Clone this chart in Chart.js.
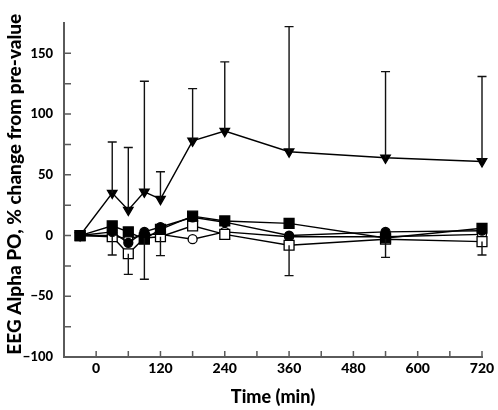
<!DOCTYPE html>
<html>
<head>
<meta charset="utf-8">
<script src="https://cdn.jsdelivr.net/npm/chart.js@4"></script>
<style>
  html, body { margin: 0; padding: 0; background: #fff; }
  #wrap { width: 498px; height: 410px; }
</style>
</head>
<body>
<div id="wrap"><canvas id="eeg-chart"></canvas></div>
<script>
// time points (min)
const times = [-30, 30, 60, 90, 120, 180, 240, 360, 540, 720];

// % change from pre-value, one array per group
const triDown     = [0, 35, 21, 36, 30, 78, 86, 69, 64, 61];
const triDownErrHi = [null, 77, 72.5, 127, 52.5, 121, 143, 172, 135, 131];
const sqFilled    = [0, 8, 3, -3, 5, 16, 12, 10, -2, 6];
const circFilled  = [0, 3, -6, 3, 7, 15, 11, 0, 3, 4];
const sqOpen      = [0, -1, -15, -2, -1, 8, 1, -8, -3, -5];
const sqOpenErrLo = [null, -16, -32, -36, -16.5, null, null, -33, -18, -16];
const circOpen    = [0, 0, -3, 1, 1, -3, 3, -1, -1, 1];

// axis labels
const xLabels = [0, 120, 240, 360, 480, 600, 720];
const yLabels = [-100, -50, 0, 50, 100, 150];

const axisColor = '#5a5a5a';
const fontFam = 'Lato, "DejaVu Sans", sans-serif';

function pts(vals) {
    return times.map((t, i) => ({ x: t, y: vals[i] }));
}

// error bars (only one direction is drawn in the figure)
const errorBars = {
    id: 'errorBars',
    afterDatasetsDraw(chart) {
        const { ctx, scales: { x, y } } = chart;
        ctx.save();
        ctx.strokeStyle = '#111';
        ctx.lineWidth = 1.4;
        const draw = (vals, ends) => {
            times.forEach((t, i) => {
                if (ends[i] == null) return;
                const px = x.getPixelForValue(t);
                const y0 = y.getPixelForValue(vals[i]);
                const y1 = y.getPixelForValue(ends[i]);
                ctx.beginPath();
                ctx.moveTo(px, y0);
                ctx.lineTo(px, y1);
                ctx.moveTo(px - 4.5, y1);
                ctx.lineTo(px + 4.5, y1);
                ctx.stroke();
            });
        };
        draw(triDown, triDownErrHi);
        draw(sqOpen, sqOpenErrLo);
        ctx.restore();
    }
};

// tick marks pointing into the plot
const innerTicks = {
    id: 'innerTicks',
    afterDraw(chart) {
        const { ctx, chartArea: a, scales: { x, y } } = chart;
        ctx.save();
        ctx.strokeStyle = axisColor;
        ctx.lineWidth = 1.5;
        ctx.beginPath();
        x.ticks.forEach(tk => {
            if (tk.value <= x.min) return;
            const px = x.getPixelForValue(tk.value);
            ctx.moveTo(px, a.bottom);
            ctx.lineTo(px, a.bottom - 6);
        });
        y.ticks.forEach(tk => {
            if (tk.value <= y.min || tk.value >= y.max) return;
            const py = y.getPixelForValue(tk.value);
            ctx.moveTo(a.left, py);
            ctx.lineTo(a.left + 7, py);
        });
        ctx.stroke();
        ctx.restore();
    }
};

function mkSet(vals, style, radius, fill) {
    return {
        data: pts(vals),
        borderColor: '#000',
        borderWidth: 1.4,
        pointStyle: style,
        pointRadius: radius,
        pointBackgroundColor: fill,
        pointBorderColor: '#000',
        pointBorderWidth: 1.3,
        pointRotation: style === 'triangle' ? 180 : 0,
        tension: 0,
        clip: false
    };
}

const ctx = document.getElementById('eeg-chart').getContext('2d');
new Chart(ctx, {
    type: 'line',
    data: {
        datasets: [
            mkSet(sqFilled, 'rect', 7, '#000'),
            mkSet(circFilled, 'circle', 4.5, '#000'),
            mkSet(triDown, 'triangle', 5.5, '#000'),
            mkSet(sqOpen, 'rect', 7, '#fff'),
            mkSet(circOpen, 'circle', 4.5, '#fff')
        ]
    },
    options: {
        responsive: true,
        maintainAspectRatio: false,
        animation: false,
        layout: { padding: { left: 0, right: 16, top: 23, bottom: 0 } },
        plugins: { legend: { display: false }, tooltip: { enabled: false } },
        scales: {
            x: {
                type: 'linear',
                min: -60,
                max: 720,
                afterFit: s => { s.height = 53; },
                grid: { drawOnChartArea: false, drawTicks: false },
                border: { display: true, color: axisColor, width: 2 },
                ticks: {
                    stepSize: 60,
                    autoSkip: false,
                    maxRotation: 0,
                    padding: 3,
                    color: '#000',
                    font: { family: fontFam, size: 14, weight: 900 },
                    callback: v => xLabels.includes(v) ? String(v) : ''
                },
                title: {
                    display: true,
                    text: 'Time (min)',
                    color: '#000',
                    padding: { top: 0, bottom: 2 },
                    font: { family: fontFam, size: 18, weight: 900 }
                }
            },
            y: {
                min: -100,
                max: 175,
                afterFit: s => { s.width = 64; },
                grid: { drawOnChartArea: false, drawTicks: false },
                border: { display: true, color: axisColor, width: 2 },
                ticks: {
                    stepSize: 25,
                    autoSkip: false,
                    padding: 11,
                    color: '#000',
                    font: { family: fontFam, size: 13, weight: 900 },
                    callback: v => yLabels.includes(v) ? String(v).replace('-', '\u2212') : ''
                },
                title: {
                    display: true,
                    text: '\u2009EEG Alpha PO, % change from pre-value',
                    color: '#000',
                    align: 'start',
                    padding: { top: 3, bottom: 0 },
                    font: { family: fontFam, size: 19, weight: 900 }
                }
            }
        }
    },
    plugins: [errorBars, innerTicks]
});
</script>
</body>
</html>
